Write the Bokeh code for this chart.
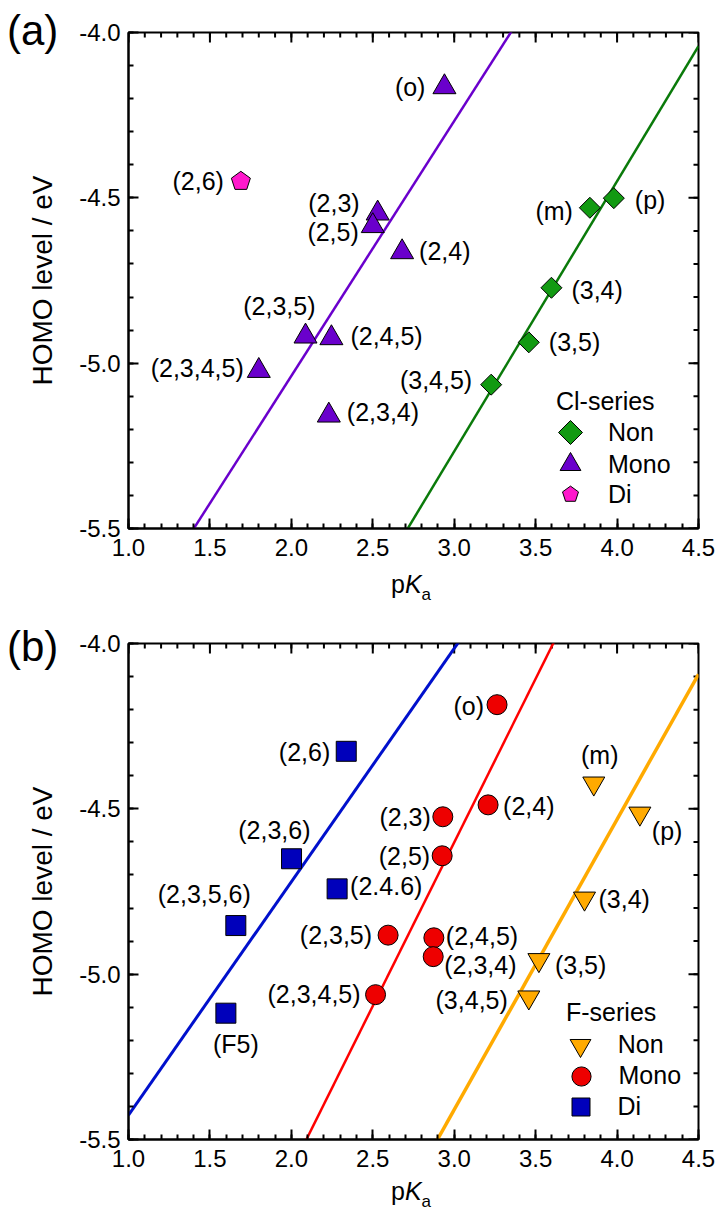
import numpy as np
from bokeh.plotting import figure
from bokeh.models import (Range1d, FixedTicker, PrintfTickFormatter, Legend, LegendItem,
                          ColumnDataSource, Div)
from bokeh.layouts import column
from bokeh.core.properties import value
from bokeh.embed import file_html
from bokeh.resources import INLINE

# ---------------- data: panel (a) Cl-series ----------------
cl_non_labels = ["(m)", "(p)", "(3,4)", "(3,5)", "(3,4,5)"]
cl_non_pka = [3.833, 3.98, 3.597, 3.458, 3.227]
cl_non_homo = [-4.530, -4.501, -4.772, -4.937, -5.065]

cl_mono_labels = ["(o)", "(2,3)", "(2,5)", "(2,4)", "(2,3,5)", "(2,4,5)", "(2,3,4,5)", "(2,3,4)"]
cl_mono_pka = [2.94, 2.53, 2.50, 2.68, 2.087, 2.246, 1.80, 2.23]
cl_mono_homo = [-4.165, -4.547, -4.585, -4.664, -4.919, -4.924, -5.023, -5.158]

cl_di_labels = ["(2,6)"]
cl_di_pka = [1.69]
cl_di_homo = [-4.45]

# ---------------- data: panel (b) F-series ----------------
f_non_labels = ["(m)", "(p)", "(3,4)", "(3,5)", "(3,4,5)"]
f_non_pka = [3.857, 4.140, 3.80, 3.520, 3.458]
f_non_homo = [-4.423, -4.514, -4.771, -4.957, -5.070]

f_mono_labels = ["(o)", "(2,3)", "(2,5)", "(2,4)", "(2,3,5)", "(2,4,5)", "(2,3,4)", "(2,3,4,5)"]
f_mono_pka = [3.263, 2.930, 2.926, 3.208, 2.594, 2.875, 2.871, 2.517]
f_mono_homo = [-4.185, -4.524, -4.642, -4.488, -4.882, -4.890, -4.947, -5.062]

f_di_labels = ["(2,6)", "(2,3,6)", "(2.4.6)", "(2,3,5,6)", "(F5)"]
f_di_pka = [2.337, 2.001, 2.281, 1.659, 1.598]
f_di_homo = [-4.326, -4.651, -4.742, -4.853, -5.118]

# axis ticks
x_major = [1.0, 1.5, 2.0, 2.5, 3.0, 3.5, 4.0, 4.5]
x_minor = [round(1.0 + 0.1 * i, 2) for i in range(36)]
y_major = [-5.5, -5.0, -4.5, -4.0]
y_minor = [round(-5.5 + 0.1 * i, 2) for i in range(16)]

# ---------------- styles (label placement: align, dx px, dy px) ----------------
cl_non_lab_style = [("right", -17, 3), ("left", 21, 2), ("left", 20, 2), ("left", 20, 0), ("right", -19, -5)]
cl_mono_lab_style = [("right", -19, 0), ("right", -18, -10), ("right", -14, 6), ("left", 17, -1),
                     ("right", 10, -30), ("left", 19, -2), ("right", -15, -3), ("left", 18, -3)]
cl_di_lab_style = [("right", -17, 0)]

f_non_lab_style = [("center", 6, -28), ("left", 12, 18), ("left", 14, 1), ("left", 16, 5), ("right", -21, 3)]
f_mono_lab_style = [("right", -13, 1), ("right", -12, 0), ("right", -12, 0), ("left", 15, 1),
                    ("right", -16, 0), ("left", 12, -2), ("left", 11, 8), ("right", -15, -1)]
f_di_lab_style = [("right", -16, 1), ("right", 19, -29), ("left", 13, -3), ("right", 15, -32), ("center", 10, 31)]

FONT = "Liberation Sans"
W = 720
FL, FR = 128, 22
FRAME_H = 496


def base_figure(height, top, bottom):
    p = figure(width=W, height=height, output_backend="svg", toolbar_location=None,
               x_range=Range1d(1.0, 4.5), y_range=Range1d(-5.5, -4.0),
               min_border_left=FL, min_border_right=FR, min_border_top=top, min_border_bottom=bottom)
    p.xgrid.visible = False
    p.ygrid.visible = False
    p.outline_line_color = "black"
    p.outline_line_width = 2
    p.background_fill_color = "white"
    p.border_fill_color = "white"
    bx = p.below[0]
    ly = p.left[0]
    bx.ticker = FixedTicker(ticks=x_major, minor_ticks=x_minor)
    ly.ticker = FixedTicker(ticks=y_major, minor_ticks=y_minor)
    bx.formatter = PrintfTickFormatter(format="%.1f")
    ly.formatter = PrintfTickFormatter(format="%.1f")
    for ax in [bx, ly]:
        ax.axis_line_color = "black"
        ax.axis_line_width = 2
        ax.major_tick_in = 10
        ax.major_tick_out = 0
        ax.minor_tick_in = 5
        ax.minor_tick_out = 0
        ax.major_tick_line_width = 2
        ax.minor_tick_line_width = 2
        ax.major_tick_line_color = "black"
        ax.minor_tick_line_color = "black"
        ax.major_label_text_font = FONT
        ax.major_label_text_font_size = "24px"
        ax.major_label_text_color = "black"
    bx.major_label_standoff = 10
    ly.major_label_standoff = 8
    ly.axis_label = "HOMO level / eV"
    ly.axis_label_text_font = FONT
    ly.axis_label_text_font_size = "28px"
    ly.axis_label_text_font_style = "normal"
    ly.axis_label_text_color = "black"
    ly.axis_label_standoff = 18
    # mirrored inward ticks on the top and right frame edges
    p.ray(x=x_major, y=-4.0, length=10, length_units="screen", angle=-np.pi / 2,
          line_color="black", line_width=2)
    p.ray(x=x_minor, y=-4.0, length=5, length_units="screen", angle=-np.pi / 2,
          line_color="black", line_width=2)
    p.ray(x=4.5, y=y_major, length=10, length_units="screen", angle=np.pi,
          line_color="black", line_width=2)
    p.ray(x=4.5, y=y_minor, length=5, length_units="screen", angle=np.pi,
          line_color="black", line_width=2)
    return p


def add_fit(p, xs, ys, color, width):
    k, b = np.polyfit(xs, ys, 1)
    xl = np.array([1.0, 4.5])
    p.line(xl, k * xl + b, line_color=color, line_width=width)


def add_labels(p, xs, ys, labels, style):
    src = ColumnDataSource(dict(x=xs, y=ys, t=labels,
                                al=[s[0] for s in style], dx=[s[1] for s in style], dy=[s[2] for s in style]))
    p.text(x="x", y="y", text="t", source=src, text_align="al", x_offset="dx", y_offset="dy",
           text_baseline="middle", text_font=value(FONT), text_font_size="25px", text_color="black")


def add_legend_item(p, label, renderer, box, cx, cy, label_x, frame_bottom):
    # cx, cy: marker centre in panel pixels; label_x: label left edge in panel px
    leg = Legend(items=[LegendItem(label=label, renderers=[renderer])],
                 location=(cx - box / 2 - FL, frame_bottom - (cy + box / 2)),
                 glyph_width=int(round(box)), glyph_height=int(round(box)),
                 label_standoff=int(round(label_x - (cx + box / 2))),
                 padding=0, margin=0, spacing=0,
                 border_line_color=None, background_fill_alpha=0,
                 label_text_font=FONT, label_text_font_size="25px", label_text_color="black")
    p.add_layout(leg, "center")


# ---------------- panel (a) ----------------
TOP_A, BOT_A = 32, 72
pa = base_figure(600, TOP_A, BOT_A)
FB_A = TOP_A + FRAME_H  # frame bottom in panel px

add_fit(pa, cl_mono_pka, cl_mono_homo, "#6a00cc", 2.5)
add_fit(pa, cl_non_pka, cl_non_homo, "#0a7a0a", 2.5)

r_cl_non = pa.ngon(x=cl_non_pka, y=cl_non_homo, radius=10.5, radius_units="screen", n=4, angle=0,
                   fill_color="#129a12", line_color="black", line_width=1)
r_cl_mono = pa.scatter(cl_mono_pka, cl_mono_homo, marker="triangle", size=23,
                       fill_color="#6a00cc", line_color="black", line_width=1)
r_cl_di = pa.ngon(x=cl_di_pka, y=cl_di_homo, radius=10, radius_units="screen", n=5, angle=0,
                  fill_color="#ff18cc", line_color="black", line_width=1)

add_labels(pa, cl_non_pka, cl_non_homo, cl_non_labels, cl_non_lab_style)
add_labels(pa, cl_mono_pka, cl_mono_homo, cl_mono_labels, cl_mono_lab_style)
add_labels(pa, cl_di_pka, cl_di_homo, cl_di_labels, cl_di_lab_style)

add_legend_item(pa, "Non", r_cl_non, 60, 570, 432, 608, FB_A)
add_legend_item(pa, "Mono", r_cl_mono, 52, 570, 464, 608, FB_A)
add_legend_item(pa, "Di", r_cl_di, 42, 570, 494, 608, FB_A)

# ---------------- panel (b) ----------------
TOP_B, BOT_B = 43, 74
pb = base_figure(613, TOP_B, BOT_B)
FB_B = TOP_B + FRAME_H

add_fit(pb, f_di_pka, f_di_homo, "#0010cc", 3)
add_fit(pb, f_mono_pka, f_mono_homo, "#ff0000", 2.5)
add_fit(pb, f_non_pka, f_non_homo, "#ffaa00", 3.5)

r_f_non = pb.scatter(f_non_pka, f_non_homo, marker="inverted_triangle", size=22,
                     fill_color="#ffaa00", line_color="black", line_width=1)
r_f_mono = pb.scatter(f_mono_pka, f_mono_homo, marker="circle", size=20,
                      fill_color="#ee0000", line_color="black", line_width=1)
r_f_di = pb.scatter(f_di_pka, f_di_homo, marker="square", size=20,
                    fill_color="#0000bb", line_color="black", line_width=1)

add_labels(pb, f_non_pka, f_non_homo, f_non_labels, f_non_lab_style)
add_labels(pb, f_mono_pka, f_mono_homo, f_mono_labels, f_mono_lab_style)
add_labels(pb, f_di_pka, f_di_homo, f_di_labels, f_di_lab_style)

add_legend_item(pb, "Non", r_f_non, 52, 579.7, 444.5, 617.7, FB_B)
add_legend_item(pb, "Mono", r_f_mono, 47.5, 580.3, 475.8, 617.7, FB_B)
add_legend_item(pb, "Di", r_f_di, 45, 580, 506.7, 617.7, FB_B)

# ---------------- texts outside the frames (panel letters, x-axis titles, legend titles) ----------------
SPAN = "position:absolute;white-space:nowrap;line-height:{lh}px;font-size:{fs}px;"


def span(left, top, fs, html):
    return '<span style="' + SPAN.format(lh=fs, fs=fs) + 'left:%dpx;top:%dpx;">' % (left, top) + html + '</span>'


pka_html = 'p<i>K</i><span style="font-size:17px;position:relative;top:7px;">a</span>'
overlay = (
    '<div style="position:relative;width:720px;height:1213px;font-family:\'Liberation Sans\',Arial,sans-serif;color:#000;">'
    + span(7, 10, 42, "(a)")
    + span(391, 572, 25, pka_html)
    + span(556, 389, 25, "Cl-series")
    + span(7, 626, 42, "(b)")
    + span(391, 1179, 25, pka_html)
    + span(566, 1000, 25, "F-series")
    + '</div>'
)
div = Div(text=overlay, width=W, height=1213, margin=(-1213, 0, 0, 0),
          styles={"position": "relative", "z-index": "10", "pointer-events": "none"})

layout = column(pa, pb, div, spacing=0)
open("out.html", "w").write(file_html(layout, INLINE))
